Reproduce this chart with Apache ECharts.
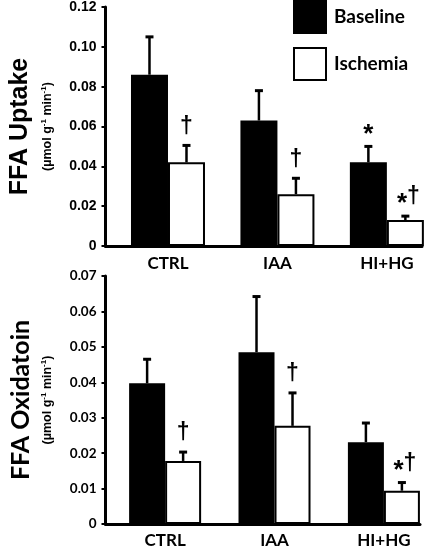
<!DOCTYPE html>
<html>
<head>
<meta charset="utf-8">
<script src="https://cdn.jsdelivr.net/npm/echarts@6/dist/echarts.min.js"></script>
<style>html,body{margin:0;padding:0;background:#fff;}#c{width:425px;height:549px;}</style>
</head>
<body>
<div id="c"></div>
<script>
// ---- data ----
const categories = ['CTRL', 'IAA', 'HI+HG'];
const seriesNames = ['Baseline', 'Ischemia'];

// FFA Uptake (µmol g-1 min-1)
const uptakeBaseline = [0.086, 0.063, 0.042];
const uptakeBaselineSE = [0.019, 0.015, 0.008];
const uptakeIschemia = [0.042, 0.026, 0.013];
const uptakeIschemiaSE = [0.0085, 0.008, 0.002];
const uptakeBaselineMarks = ['', '', '*'];
const uptakeIschemiaMarks = ['†', '†', '*†'];
const uptakeTicks = [0, 0.02, 0.04, 0.06, 0.08, 0.10, 0.12];

// FFA Oxidation (µmol g-1 min-1)
const oxBaseline = [0.0397, 0.0485, 0.0231];
const oxBaselineSE = [0.0068, 0.0157, 0.0054];
const oxIschemia = [0.0178, 0.0277, 0.0094];
const oxIschemiaSE = [0.0025, 0.0093, 0.0023];
const oxBaselineMarks = ['', '', ''];
const oxIschemiaMarks = ['†', '†', '*†'];
const oxTicks = [0, 0.01, 0.02, 0.03, 0.04, 0.05, 0.06, 0.07];

// ---- chart ----
const chart = echarts.init(document.getElementById('c'), null, {renderer: 'canvas'});

const ARIAL = '"Liberation Sans", Arial, sans-serif';
const CAL = 'Lato, "Open Sans", sans-serif';

function markRich(s) {
  return s.split('').map(ch => ch === '*' ? '{s|*}' : '{d|' + ch + '}').join('');
}

function barSeries(name, xi, vals, color, bw) {
  return {
    name: name, type: 'bar', xAxisIndex: xi, yAxisIndex: xi,
    data: vals.map((v, i) => [i, v]),
    barWidth: bw, barGap: '0%',
    itemStyle: {color: color, borderColor: '#000', borderWidth: 2},
    emphasis: {disabled: true},
    animation: false, z: 2
  };
}

function errSeries(xi, vals, ses, marks, side, bw) {
  return {
    type: 'custom', xAxisIndex: xi, yAxisIndex: xi,
    data: vals.map((v, i) => [i, v, v + ses[i]]),
    encode: {x: 0, y: [1, 2]},
    clip: false, z: 3, animation: false, silent: true,
    renderItem: function (params, api) {
      const base = api.coord([api.value(0), api.value(1)]);
      const top = api.coord([api.value(0), api.value(2)]);
      const cx = base[0] + side * bw / 2;
      const children = [
        {type: 'line', shape: {x1: cx, y1: base[1], x2: cx, y2: top[1]},
         style: {stroke: '#000', lineWidth: 2.5}},
        {type: 'line', shape: {x1: cx - 4, y1: top[1], x2: cx + 4, y2: top[1]},
         style: {stroke: '#000', lineWidth: 3}}
      ];
      const m = marks[params.dataIndex];
      if (m) {
        children.push({
          type: 'text',
          style: {
            text: markRich(m), x: cx + (m.length > 1 ? 3 : 0), y: top[1] - 7,
            align: 'center', verticalAlign: 'bottom', fill: '#000',
            rich: {
              d: {fontSize: 23, fontWeight: 'bold', fontFamily: ARIAL, lineHeight: 24},
              s: {fontSize: 26, fontWeight: 'bold', fontFamily: ARIAL, lineHeight: 24, padding: [14, 0, 0, 0]}
            }
          }
        });
      }
      return {type: 'group', children: children};
    }
  };
}

function yName(title, tfont, gap) {
  return {
    name: '{t|' + title + '}\n{u|(µmol g}{s|-1}{u| min}{s|-1}{u|)}',
    nameLocation: 'middle', nameRotate: 90, nameGap: gap,
    nameTextStyle: {
      rich: {
        t: {fontSize: 25, fontWeight: 'bold', fontFamily: tfont, lineHeight: 38, color: '#000'},
        u: {fontSize: 12.5, fontWeight: 'bold', fontFamily: ARIAL, lineHeight: 16, color: '#000'},
        s: {fontSize: 8, fontWeight: 'bold', fontFamily: ARIAL, lineHeight: 16, verticalAlign: 'top', color: '#000'}
      }
    }
  };
}

function yAxis(gi, max, interval, title, tfont, labFont, labSize, gap) {
  return Object.assign({
    type: 'value', gridIndex: gi, min: 0, max: max, interval: interval,
    axisLine: {show: true, onZero: false, lineStyle: {color: '#000', width: 3}},
    axisTick: {show: true, inside: false, length: 4, lineStyle: {color: '#000', width: 2}},
    splitLine: {show: false},
    axisLabel: {
      margin: 9, color: '#000', fontWeight: 'bold', fontFamily: labFont, fontSize: labSize,
      formatter: v => v === 0 ? '0' : v.toFixed(2)
    }
  }, yName(title, tfont, gap));
}

function xAxis(gi, min, max, margin) {
  return {
    type: 'value', gridIndex: gi, min: min, max: max,
    axisLine: {show: true, onZero: false, lineStyle: {color: '#000', width: 3}},
    axisTick: {show: false},
    splitLine: {show: false},
    axisLabel: {
      customValues: [0, 1, 2], margin: margin, color: '#000', fontWeight: 'bold',
      fontFamily: CAL, fontSize: 17, showMinLabel: true, showMaxLabel: true,
      formatter: v => categories[Math.round(v)] || ''
    }
  };
}

const option = {
  backgroundColor: '#fff',
  animation: false,
  legend: {
    data: seriesNames, orient: 'vertical', left: 293, top: 0, padding: 0,
    itemWidth: 32, itemHeight: 32, itemGap: 13, icon: 'rect',
    selectedMode: false,
    textStyle: {fontFamily: CAL, fontWeight: 'bold', fontSize: 19, color: '#000', padding: [0, 0, 0, 3]}
  },
  grid: [
    {left: 98, top: 6, width: 324, height: 240},
    {left: 98, top: 276, width: 322, height: 248}
  ],
  xAxis: [xAxis(0, -0.571, 2.321, 9), xAxis(1, -0.545, 2.33, 8)],
  yAxis: [
    yAxis(0, 0.12, 0.02, 'FFA Uptake', ARIAL, ARIAL, 14, 50),
    yAxis(1, 0.07, 0.01, 'FFA Oxidatoin', CAL, CAL, 13.5, 50)
  ],
  series: [
    barSeries(seriesNames[0], 0, uptakeBaseline, '#000', 37),
    barSeries(seriesNames[1], 0, uptakeIschemia, '#fff', 37),
    errSeries(0, uptakeBaseline, uptakeBaselineSE, uptakeBaselineMarks, -1, 37),
    errSeries(0, uptakeIschemia, uptakeIschemiaSE, uptakeIschemiaMarks, 1, 37),
    barSeries(seriesNames[0], 1, oxBaseline, '#000', 36),
    barSeries(seriesNames[1], 1, oxIschemia, '#fff', 36),
    errSeries(1, oxBaseline, oxBaselineSE, oxBaselineMarks, -1, 36),
    errSeries(1, oxIschemia, oxIschemiaSE, oxIschemiaMarks, 1, 36)
  ]
};
chart.setOption(option);
</script>
</body>
</html>
